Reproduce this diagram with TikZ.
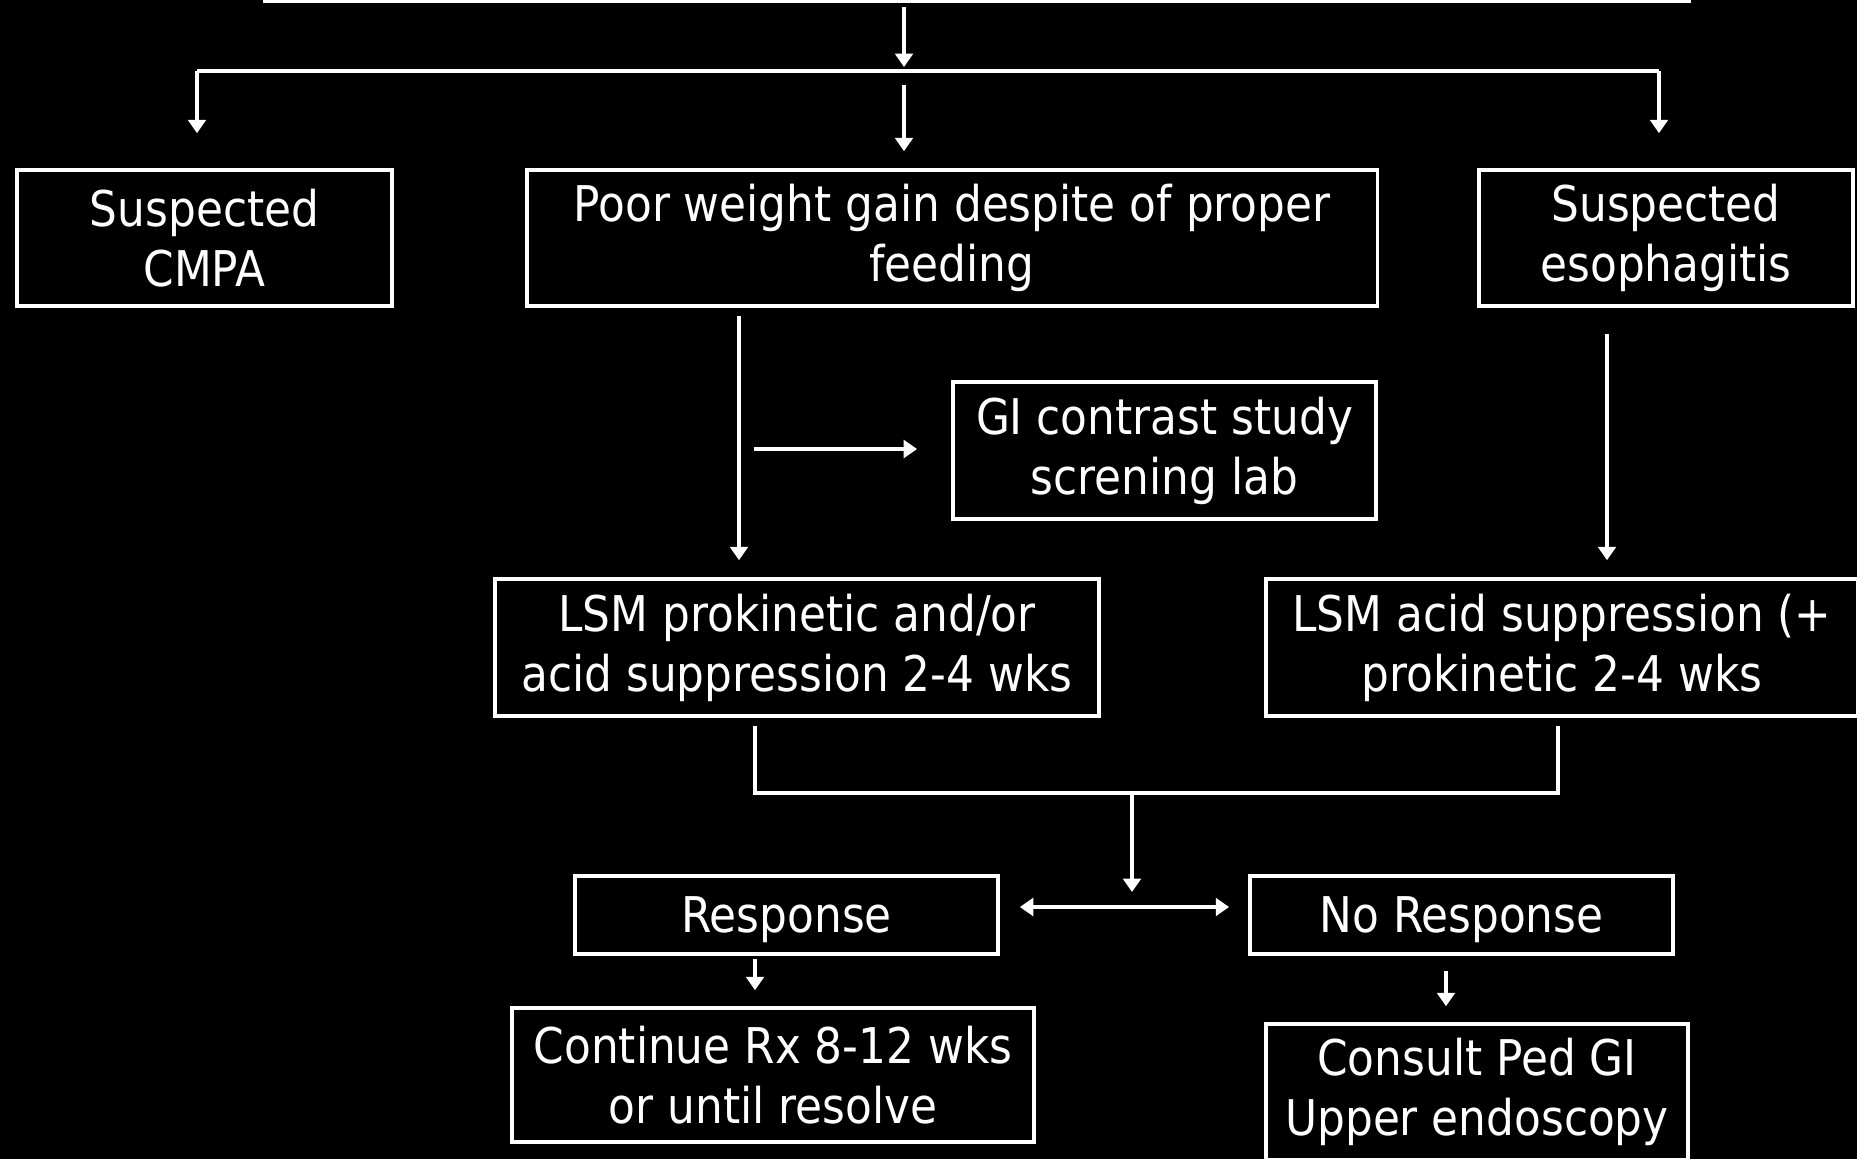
\documentclass[tikz,border=0pt]{standalone}
\usepackage{fontspec}
\setmainfont[FakeStretch=0.89]{DejaVu Sans}
\usetikzlibrary{arrows.meta}
\tikzset{
  ln/.style={draw=white, line width=1pt},
  arr/.style={ln, -{Triangle[width=5pt,length=3.8pt]}},
  arr2/.style={ln, {Triangle[width=5pt,length=3.8pt]}-{Triangle[width=5pt,length=3.8pt]}},
  box/.style={draw=white, line width=1pt, text=white, align=center, inner sep=0pt,
    font=\fontsize{14pt}{17.1pt}\selectfont,
    execute at begin node={\rule{0pt}{13pt}}}
}
\begin{document}
\begin{tikzpicture}[x=0.01cm,y=-0.01cm]
\fill[black] (0,0) rectangle (1857,1159);
\useasboundingbox (0,0) rectangle (1857,1159);

% boxes
\node[box, minimum width=14.24cm, minimum height=2cm] (top) at (977,-98.5) {};
\node[box, minimum width=3.75cm, minimum height=1.36cm] (cmpa) at (204.5,238) {Suspected\\CMPA};
\node[box, minimum width=8.50cm, minimum height=1.36cm] (poor) at (952,238) {Poor weight gain despite of proper\\feeding};
\node[box, minimum width=3.74cm, minimum height=1.36cm] (eso) at (1666,238) {Suspected\\esophagitis};
\node[box, minimum width=4.23cm, minimum height=1.37cm] (gi) at (1164.5,450.5) {GI contrast study\\screning lab};
\node[box, minimum width=6.04cm, minimum height=1.37cm] (lsm1) at (797,647.5) {LSM prokinetic and/or\\acid suppression 2-4 wks};
\node[box, minimum width=5.92cm, minimum height=1.37cm] (lsm2) at (1562,647.5) {LSM acid suppression (+\\prokinetic 2-4 wks};
\node[box, minimum width=4.23cm, minimum height=0.78cm] (resp) at (786.5,915) {Response};
\node[box, minimum width=4.23cm, minimum height=0.78cm] (noresp) at (1461.5,915) {No Response};
\node[box, minimum width=5.22cm, minimum height=1.34cm] (cont) at (773,1075) {Continue Rx 8-12 wks\\or until resolve};
\node[box, minimum width=4.22cm, minimum height=1.36cm] (consult) at (1477,1092) {Consult Ped GI\\Upper endoscopy};

% helper coordinates
\coordinate (busC) at (904,71);
\coordinate (busL) at (197,71);
\coordinate (busR) at (1659,71);
\coordinate (pL) at (739,0);
\coordinate (eR) at (1607,0);
\coordinate (giS) at (754,449);
\coordinate (jL) at (755,0);
\coordinate (jR) at (1558,0);
\coordinate (jM) at (1132,793);
\coordinate (nR) at (1446,0);

% connectors
\draw[arr, shorten <=0.04cm, shorten >=0.04cm] (top.south -| busC) -- (busC);
\draw[ln] (busL) -- (busR);
\draw[arr, shorten >=0.35cm] (busL) -- (busL |- cmpa.north);
\draw[arr, shorten >=0.35cm] (busR) -- (busR |- eso.north);
\draw[arr, shorten <=0.14cm, shorten >=0.17cm] (busC) -- (busC |- poor.north);

\draw[arr, shorten <=0.08cm, shorten >=0.17cm] (poor.south -| pL) -- (lsm1.north -| pL);
\draw[arr, shorten >=0.34cm] (giS) -- (gi.west |- giS);
\draw[arr, shorten <=0.26cm, shorten >=0.17cm] (eso.south -| eR) -- (lsm2.north -| eR);

\draw[ln, shorten <=0.08cm, shorten >=0.08cm] (lsm1.south -| jL) |- (jM) -| (lsm2.south -| jR);
\draw[arr, shorten >=0.23cm] (jM) -- (jM |- resp.center);
\draw[arr2, shorten <=0.2cm, shorten >=0.19cm] ([yshift=0.08cm]resp.east) -- ([yshift=0.08cm]noresp.west);

\draw[arr, shorten <=0.03cm, shorten >=0.16cm] (resp.south -| jL) -- (cont.north -| jL);
\draw[arr, shorten <=0.15cm, shorten >=0.16cm] (noresp.south -| nR) -- (consult.north -| nR);
\end{tikzpicture}
\end{document}
